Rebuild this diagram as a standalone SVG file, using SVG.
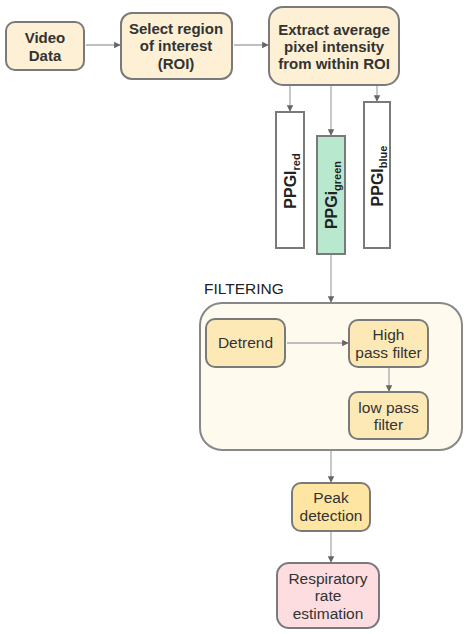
<svg xmlns="http://www.w3.org/2000/svg" width="474" height="634" viewBox="0 0 474 634">
<defs>
<marker id="ah" viewBox="0 0 10 10" refX="9" refY="5" markerWidth="5" markerHeight="5" orient="auto">
<path d="M0,0 L10,5 L0,10 z" fill="#666"/>
</marker>
<style>
.box{stroke:#7a7a7a;stroke-width:2}
.top{fill:#fdf0d4}
.inner{fill:#fde9b6}
.peak{fill:#fee6a2}
.resp{fill:#fddde0}
.conn{stroke:#aaa;stroke-width:1.3;fill:none;marker-end:url(#ah)}
.tb{font-family:"Liberation Sans",Arial,sans-serif;font-weight:bold;font-size:15px;fill:#333;text-anchor:middle}
.tr{font-family:"Liberation Sans",Arial,sans-serif;font-size:15.5px;fill:#333;text-anchor:middle}
.ppg{font-family:"Liberation Sans",Arial,sans-serif;font-weight:bold;font-size:16px;fill:#222;text-anchor:middle}
</style>
</defs>
<rect width="474" height="634" fill="#fff"/>
<g id="filtering">
<rect x="200" y="303" width="262" height="147" rx="22" fill="#fffaee" stroke="#888" stroke-width="2"/>
<text x="204" y="294" font-family="'Liberation Sans',Arial,sans-serif" font-size="15.5" fill="#222">FILTERING</text>
</g>
<g id="connectors">
<path class="conn" d="M86,45 H120"/>
<path class="conn" d="M234,45 H268"/>
<path class="conn" d="M290,86 V111"/>
<path class="conn" d="M331,86 V135"/>
<path class="conn" d="M377,86 V101"/>
<path class="conn" d="M331,255 V302"/>
<path class="conn" d="M287,343 H348"/>
<path class="conn" d="M389,368 V391"/>
<path class="conn" d="M331,451 V482"/>
<path class="conn" d="M331,532 V562"/>
</g>
<g id="video">
<rect class="box top" x="6" y="22" width="78" height="48" rx="9"/>
<text class="tb" x="45" y="43">Video</text>
<text class="tb" x="45" y="61">Data</text>
</g>
<g id="roi">
<rect class="box top" x="121" y="13" width="111" height="66" rx="11"/>
<text class="tb" x="176" y="34">Select region</text>
<text class="tb" x="176" y="51">of interest</text>
<text class="tb" x="176" y="69">(ROI)</text>
</g>
<g id="extract">
<rect class="box top" x="269" y="7" width="130" height="78" rx="14"/>
<text class="tb" x="334" y="35" font-size="16">Extract average</text>
<text class="tb" x="334" y="52" font-size="16">pixel intensity</text>
<text class="tb" x="334" y="69" font-size="16">from within ROI</text>
</g>
<g id="ppgi-red">
<rect class="box" x="276" y="112" width="28" height="136" fill="#fff"/>
<text class="ppg" transform="translate(296,181) rotate(-90)">PPGI<tspan font-size="11" dy="4">red</tspan></text>
</g>
<g id="ppgi-green">
<rect class="box" x="317" y="136" width="28" height="118" fill="#b8e9cf"/>
<text class="ppg" transform="translate(337,195) rotate(-90)">PPGi<tspan font-size="11" dy="4">green</tspan></text>
</g>
<g id="ppgi-blue">
<rect class="box" x="364" y="102" width="26" height="146" fill="#fff"/>
<text class="ppg" transform="translate(383,176) rotate(-90)">PPGI<tspan font-size="11" dy="4">blue</tspan></text>
</g>
<g id="detrend">
<rect class="box inner" x="206" y="319" width="79" height="48" rx="9"/>
<text class="tr" x="245.5" y="348">Detrend</text>
</g>
<g id="highpass">
<rect class="box inner" x="349" y="320" width="79" height="47" rx="9"/>
<text class="tr" x="388.5" y="340">High</text>
<text class="tr" x="388.5" y="358">pass filter</text>
</g>
<g id="lowpass">
<rect class="box inner" x="349" y="392" width="79" height="47" rx="9"/>
<text class="tr" x="388.5" y="413">low pass</text>
<text class="tr" x="388.5" y="430">filter</text>
</g>
<g id="peak">
<rect class="box peak" x="292" y="483" width="78" height="48" rx="9"/>
<text class="tr" x="331" y="503">Peak</text>
<text class="tr" x="331" y="521">detection</text>
</g>
<g id="resp">
<rect class="box resp" x="277" y="563" width="102" height="65" rx="12"/>
<text class="tr" x="328" y="584">Respiratory</text>
<text class="tr" x="328" y="601">rate</text>
<text class="tr" x="328" y="619">estimation</text>
</g>
</svg>
